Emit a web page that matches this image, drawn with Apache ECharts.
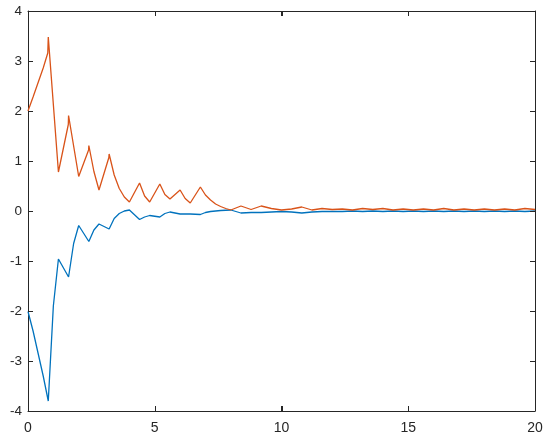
<!DOCTYPE html>
<html>
<head>
<meta charset="utf-8">
<script src="https://cdn.jsdelivr.net/npm/echarts@6/dist/echarts.min.js"></script>
<style>
  html, body { margin: 0; padding: 0; background: #fff; }
  #chart { width: 550px; height: 448px; }
</style>
</head>
<body>
<div id="chart"></div>
<script>
// values
const xTicks = [0, 5, 10, 15, 20];
const yTicks = [-4, -3, -2, -1, 0, 1, 2, 3, 4];

const orangeX = [0, 0.2, 0.4, 0.6, 0.78, 0.8, 1.2, 1.59, 1.6, 2.0, 2.39, 2.4, 2.6, 2.8, 3.19, 3.2,
  3.4, 3.6, 3.8, 4.0, 4.4, 4.6, 4.8, 5.2, 5.4, 5.6, 6.0, 6.2, 6.4, 6.8, 7.0, 7.2, 7.4, 7.6, 7.8, 8.0,
  8.4, 8.8, 9.2, 9.6, 10.0, 10.4, 10.8, 11.2, 11.6, 12.0, 12.4, 12.8, 13.2, 13.6, 14.0, 14.4, 14.8,
  15.2, 15.6, 16.0, 16.4, 16.8, 17.2, 17.6, 18.0, 18.4, 18.8, 19.2, 19.6, 20];
const orangeY = [2.0, 2.28, 2.57, 2.86, 3.16, 3.48, 0.78, 1.73, 1.91, 0.69, 1.22, 1.31, 0.79, 0.42, 1.07, 1.14,
  0.72, 0.45, 0.28, 0.18, 0.56, 0.3, 0.18, 0.54, 0.33, 0.24, 0.42, 0.25, 0.16, 0.48, 0.32, 0.22, 0.14, 0.09, 0.05, 0.02,
  0.10, 0.03, 0.10, 0.05, 0.02, 0.04, 0.08, 0.02, 0.05, 0.03, 0.04, 0.02, 0.05, 0.03, 0.05, 0.02, 0.04,
  0.02, 0.04, 0.02, 0.05, 0.02, 0.04, 0.02, 0.04, 0.02, 0.04, 0.02, 0.05, 0.03];

const blueX = [0, 0.2, 0.4, 0.6, 0.8, 1.0, 1.2, 1.6, 1.8, 2.0, 2.4, 2.6, 2.8, 3.2, 3.4, 3.6, 3.8, 4.0,
  4.4, 4.6, 4.8, 5.2, 5.4, 5.6, 6.0, 6.4, 6.8, 7.0, 7.2, 7.6, 8.0, 8.4, 8.8, 9.2, 9.6, 10.0, 10.4, 10.8,
  11.2, 11.6, 12.0, 12.4, 12.8, 13.2, 13.6, 14.0, 14.4, 14.8, 15.2, 15.6, 16.0, 16.4, 16.8, 17.2, 17.6,
  18.0, 18.4, 18.8, 19.2, 19.6, 20];
const blueY = [-2.01, -2.4, -2.85, -3.3, -3.8, -1.9, -0.96, -1.32, -0.65, -0.29, -0.61, -0.38, -0.26, -0.36, -0.15, -0.05, 0.0, 0.02,
  -0.17, -0.12, -0.09, -0.12, -0.05, -0.02, -0.06, -0.06, -0.07, -0.03, -0.01, 0.01, 0.02, -0.04, -0.03, -0.03, -0.02, -0.01, -0.02, -0.04,
  -0.02, -0.01, -0.01, -0.01, 0.0, -0.01, 0.0, -0.01, 0.0, -0.01, 0.0, -0.01, 0.0, -0.01, 0.0, -0.01, 0.0,
  -0.01, 0.0, -0.01, 0.0, -0.01, 0.0];

const axisColor = '#262626';
const font = '"Liberation Sans", Arial, Helvetica, sans-serif';
const tickLen = 5;

function pairs(xs, ys) {
  return xs.map((x, i) => [x, ys[i]]);
}

function axis(pos, ticks, step, label) {
  return {
    type: 'value',
    position: pos,
    min: ticks[0],
    max: ticks[ticks.length - 1],
    interval: step,
    axisLine: { show: true, onZero: false, lineStyle: { color: axisColor, width: 1 } },
    axisTick: { show: true, inside: true, length: tickLen, lineStyle: { color: axisColor, width: 1 } },
    splitLine: { show: false },
    axisLabel: label
  };
}

const chart = echarts.init(document.getElementById('chart'));

chart.setOption({
  animation: false,
  backgroundColor: '#fff',
  grid: { left: 28, right: 15, top: 11, bottom: 37 },
  xAxis: [
    axis('bottom', xTicks, 5, { color: axisColor, fontSize: 14, fontFamily: font, margin: 10 }),
    axis('top', xTicks, 5, { show: false })
  ],
  yAxis: [
    axis('left', yTicks, 1, { color: axisColor, fontSize: 13.5, fontFamily: font, margin: 6, padding: [4, 0, 0, 0] }),
    axis('right', yTicks, 1, { show: false })
  ],
  series: [
    {
      type: 'line',
      data: pairs(orangeX, orangeY),
      showSymbol: false,
      lineStyle: { color: '#D95319', width: 1.3 },
      z: 3
    },
    {
      type: 'line',
      data: pairs(blueX, blueY),
      showSymbol: false,
      lineStyle: { color: '#0072BD', width: 1.3 },
      z: 2
    }
  ]
});

// inward box ticks on all four sides, placed through the chart's own scales
// (they sit exactly on top of the axis ticks, so nothing doubles up)
const crisp = v => Math.round(v) + 0.5;
const xLeft = chart.convertToPixel({ xAxisIndex: 0 }, xTicks[0]);
const xRight = chart.convertToPixel({ xAxisIndex: 0 }, xTicks[xTicks.length - 1]);
const yBottom = chart.convertToPixel({ yAxisIndex: 0 }, yTicks[0]);
const yTop = chart.convertToPixel({ yAxisIndex: 0 }, yTicks[yTicks.length - 1]);
const tickEls = [];
function tick(x1, y1, x2, y2) {
  tickEls.push({
    type: 'line', silent: true, z: 10,
    shape: { x1: x1, y1: y1, x2: x2, y2: y2 },
    style: { stroke: axisColor, lineWidth: 1 }
  });
}
xTicks.forEach(v => {
  const px = crisp(chart.convertToPixel({ xAxisIndex: 0 }, v));
  tick(px, yBottom, px, yBottom - tickLen);
  tick(px, yTop, px, yTop + tickLen);
});
yTicks.forEach(v => {
  const py = crisp(chart.convertToPixel({ yAxisIndex: 0 }, v));
  tick(xLeft, py, xLeft + tickLen, py);
  tick(xRight, py, xRight - tickLen, py);
});
chart.setOption({ graphic: tickEls });
</script>
</body>
</html>
